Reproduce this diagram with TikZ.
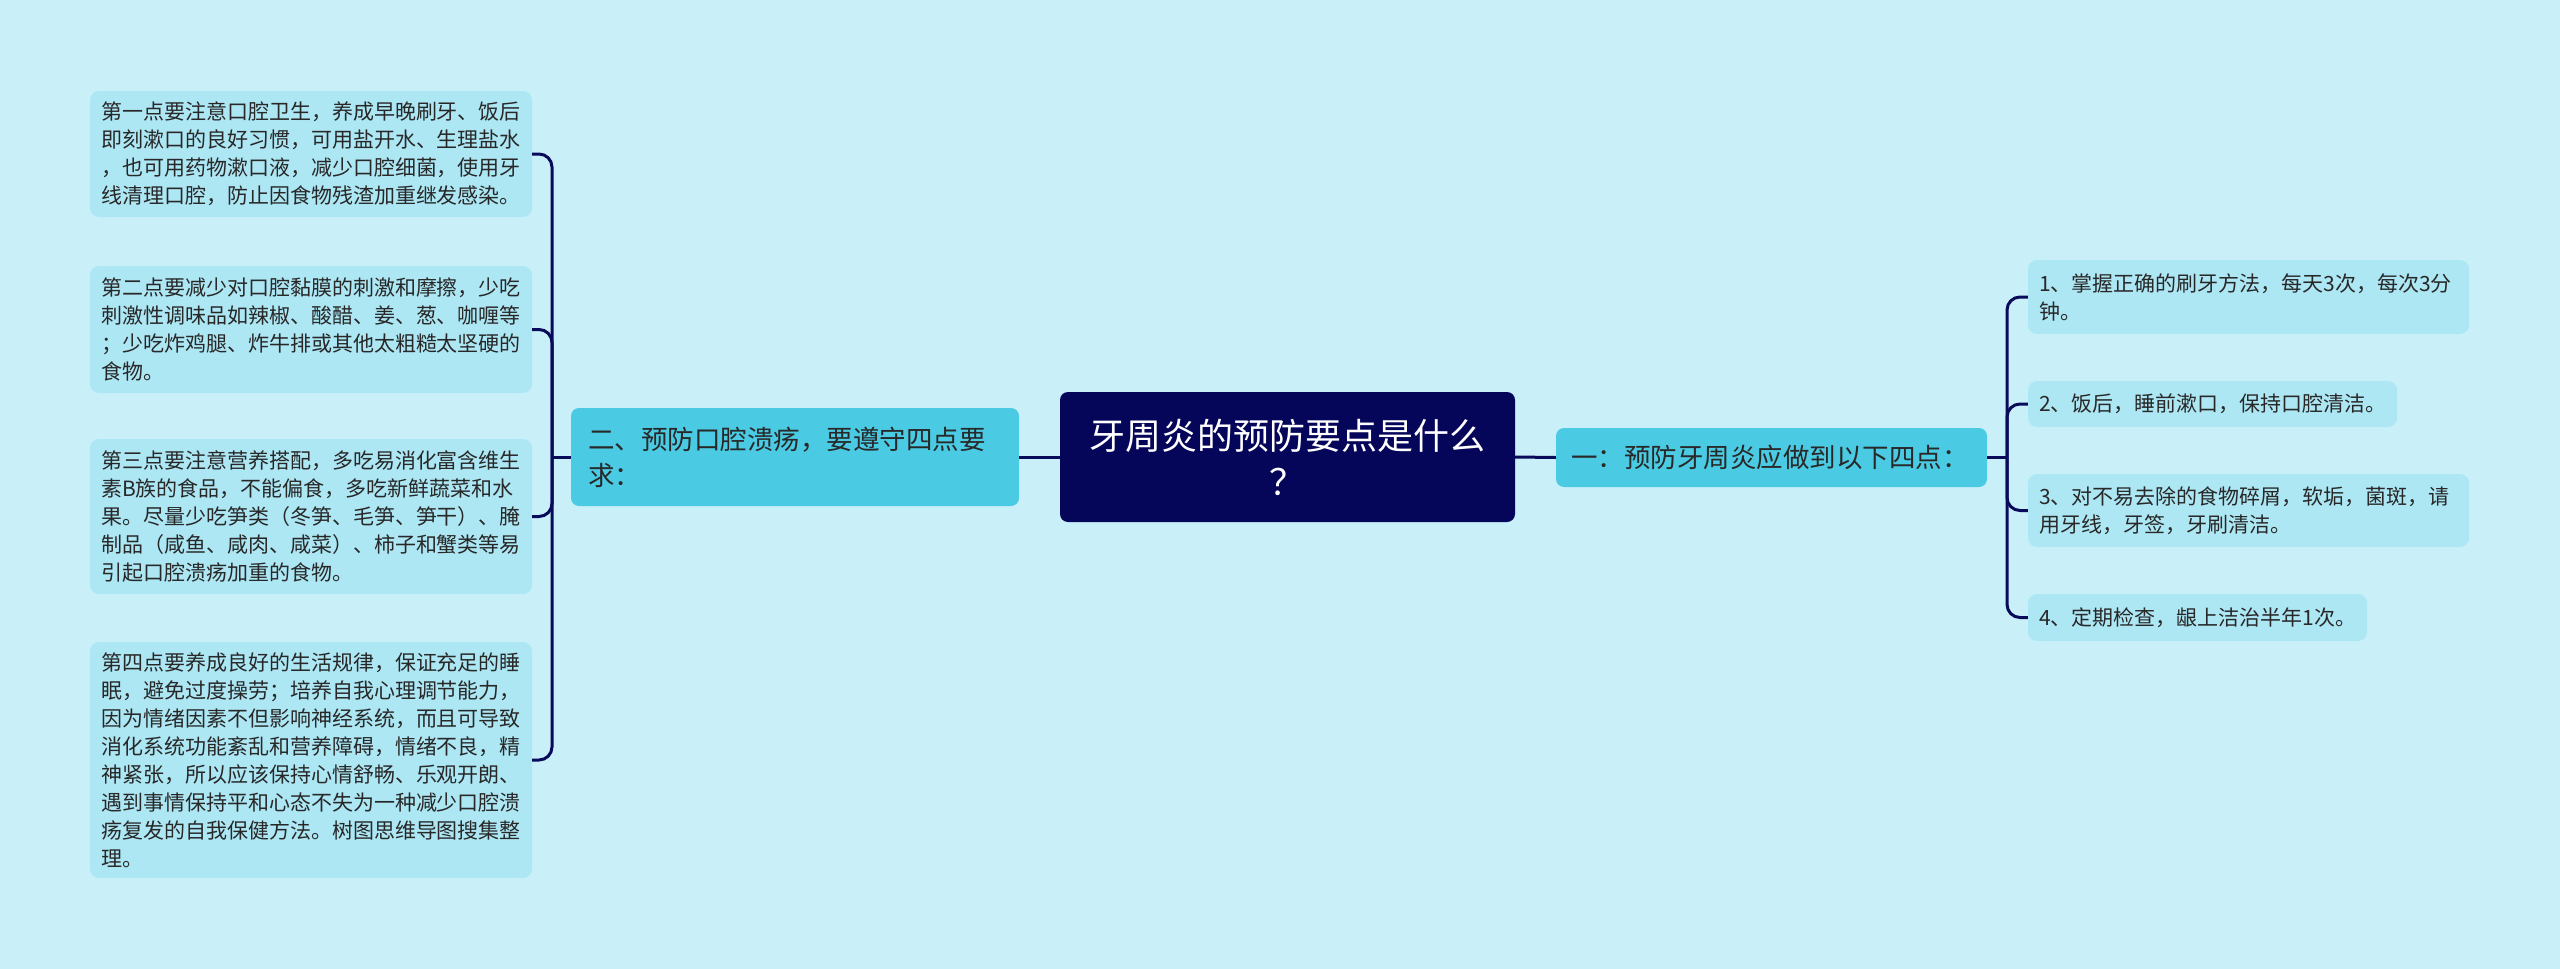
\documentclass[tikz,border=0pt]{standalone}
\usepackage{fontspec}
\setmainfont{Noto Sans CJK SC}
\definecolor{bgc}{RGB}{201,240,248}
\definecolor{leafc}{RGB}{173,231,244}
\definecolor{branchc}{RGB}{74,203,227}
\definecolor{centerc}{RGB}{5,5,90}
\definecolor{linec}{RGB}{10,10,90}
\definecolor{textc}{RGB}{40,40,40}
\begin{document}
\begin{tikzpicture}[x=1pt,y=-1pt,
  leaf/.style={fill=leafc, rounded corners=9pt, inner xsep=11pt, inner ysep=0pt, align=left, text=textc, font=\fontsize{21}{28}\selectfont},
  branch/.style={fill=branchc, rounded corners=8pt, inner xsep=16pt, inner ysep=0pt, align=left, text=textc, font=\fontsize{26.5}{36}\selectfont},
  centre/.style={fill=centerc, rounded corners=8pt, inner sep=0pt, align=center, text=white, font=\fontsize{36}{46}\selectfont},
  conn/.style={draw=linec, line width=3pt},
  elbow/.style={conn, rounded corners=13pt}]
\useasboundingbox (0,0) rectangle (2560,969);
\fill[bgc] (0,0) rectangle (2560,969);

% centre
\node[centre, minimum width=455pt, minimum height=130pt] (c) at (1287.5,457) {牙周炎的预防要点是什么\\？};

% branches
\node[branch, minimum width=448pt, minimum height=98pt, text width=414pt] (b2) at (795,457) {二、预防口腔溃疡，要遵守四点要\\求：};
\node[branch, minimum width=431pt, minimum height=59pt, text width=401pt, inner xsep=15pt] (b1) at (1771.5,457.5) {一：预防牙周炎应做到以下四点：};

% left leaves
\node[leaf, minimum width=442pt, minimum height=126pt, text width=420pt] (L1) at (311,154) {第一点要注意口腔卫生，养成早晚刷牙、饭后\\即刻漱口的良好习惯，可用盐开水、生理盐水\\，也可用药物漱口液，减少口腔细菌，使用牙\\线清理口腔，防止因食物残渣加重继发感染。};
\node[leaf, minimum width=442pt, minimum height=127pt, text width=420pt] (L2) at (311,329.5) {第二点要减少对口腔黏膜的刺激和摩擦，少吃\\刺激性调味品如辣椒、酸醋、姜、葱、咖喱等\\；少吃炸鸡腿、炸牛排或其他太粗糙太坚硬的\\食物。};
\node[leaf, minimum width=442pt, minimum height=155pt, text width=420pt] (L3) at (311,516.5) {第三点要注意营养搭配，多吃易消化富含维生\\素B族的食品，不能偏食，多吃新鲜蔬菜和水\\果。尽量少吃笋类（冬笋、毛笋、笋干）、腌\\制品（咸鱼、咸肉、咸菜）、柿子和蟹类等易\\引起口腔溃疡加重的食物。};
\node[leaf, minimum width=442pt, minimum height=236pt, text width=420pt] (L4) at (311,760) {第四点要养成良好的生活规律，保证充足的睡\\眠，避免过度操劳；培养自我心理调节能力，\\因为情绪因素不但影响神经系统，而且可导致\\消化系统功能紊乱和营养障碍，情绪不良，精\\神紧张，所以应该保持心情舒畅、乐观开朗、\\遇到事情保持平和心态不失为一种减少口腔溃\\疡复发的自我保健方法。树图思维导图搜集整\\理。};

% right leaves
\node[leaf, minimum width=441pt, minimum height=74pt, text width=419pt] (R1) at (2248.5,297) {1、掌握正确的刷牙方法，每天3次，每次3分\\钟。};
\node[leaf, minimum width=369pt, minimum height=46pt, text width=347pt] (R2) at (2212.5,404) {2、饭后，睡前漱口，保持口腔清洁。};
\node[leaf, minimum width=441pt, minimum height=73pt, text width=419pt] (R3) at (2248.5,510.5) {3、对不易去除的食物碎屑，软垢，菌斑，请\\用牙线，牙签，牙刷清洁。};
\node[leaf, minimum width=339pt, minimum height=47pt, text width=317pt] (R4) at (2197.5,617.5) {4、定期检查，龈上洁治半年1次。};

% junctions
\coordinate (lj) at (552,457);
\coordinate (rj) at (2007,457.5);

% connectors
\draw[conn] (c.west) -- (b2.east);
\draw[conn] (c.east) -- (b1.west);
\draw[conn] (b2.west) -- (lj);
\draw[conn] (b1.east) -- (rj);
\draw[elbow] (lj) |- (L1.east);
\draw[elbow] (lj) |- (L2.east);
\draw[elbow] (lj) |- (L3.east);
\draw[elbow] (lj) |- (L4.east);
\draw[elbow] (rj) |- (R1.west);
\draw[elbow] (rj) |- (R2.west);
\draw[elbow] (rj) |- (R3.west);
\draw[elbow] (rj) |- (R4.west);
\end{tikzpicture}
\end{document}
